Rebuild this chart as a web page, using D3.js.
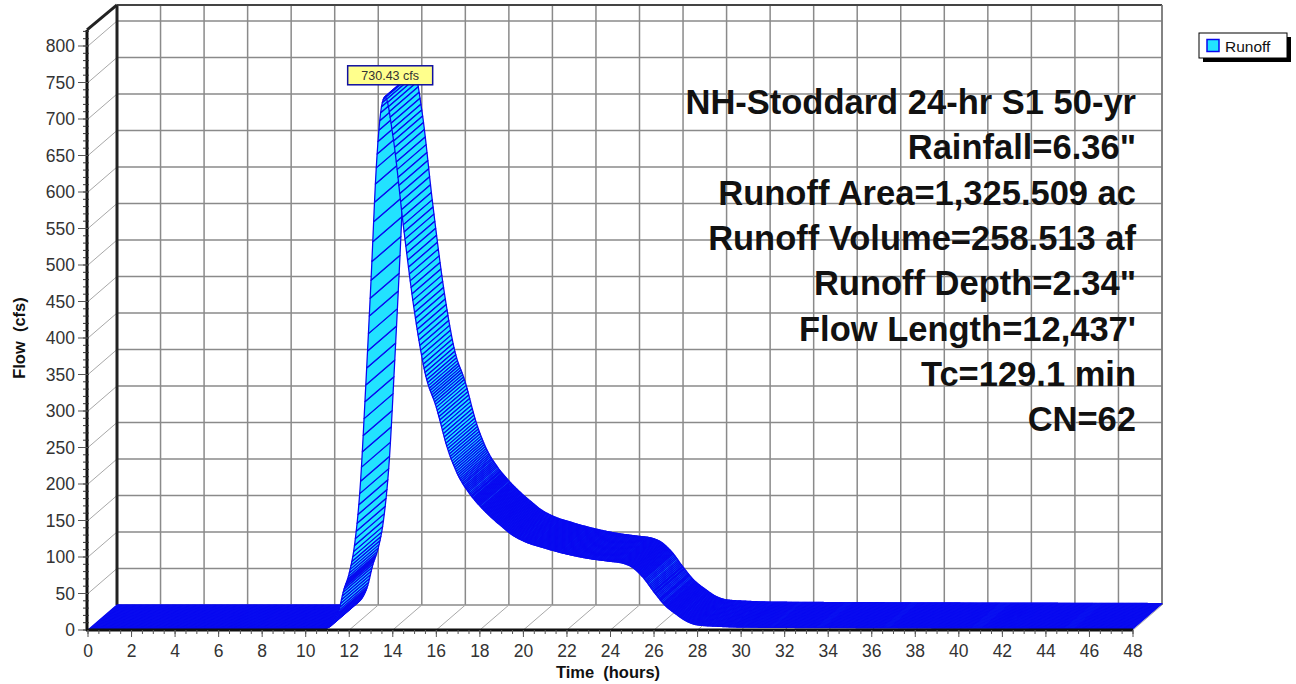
<!DOCTYPE html>
<html><head><meta charset="utf-8">
<script src="https://cdn.jsdelivr.net/npm/d3@7"></script>
<style>body{margin:0;background:#fff}svg{display:block}</style>
</head><body>
<svg id="chart" width="1296" height="684"></svg>
<script>
// ---- data ----
const timeHours = [0, 10.5, 11, 11.5, 11.75, 12, 12.25, 12.5, 12.75, 13, 13.25, 13.5, 13.65, 14, 14.5, 15, 15.5, 16, 16.5, 17, 17.5, 18, 18.5, 19, 19.5, 20, 21, 22, 23, 24, 24.5, 25, 25.5, 26, 26.5, 27, 27.5, 28, 29, 30, 36, 42, 48];
const flowCfs   = [0, 0, 3, 25, 55, 78, 118, 195, 330, 479, 638, 720, 730.43, 678, 550, 435, 350, 305, 250, 212, 188, 170, 155, 142, 130, 122, 112, 104, 98, 94, 92, 86, 72, 52, 34, 22, 12, 7, 5, 4, 3, 2.5, 2];
const xTickValues = d3.range(0, 49, 2);
const yTickValues = d3.range(0, 801, 50);
const peakLabel = "730.43 cfs";
const infoLines = ["NH-Stoddard 24-hr S1 50-yr", "Rainfall=6.36\"", "Runoff Area=1,325.509 ac", "Runoff Volume=258.513 af", "Runoff Depth=2.34\"", "Flow Length=12,437'", "Tc=129.1 min", "CN=62"];
const legendLabel = "Runoff";
const xTitle = "Time  (hours)";
const yTitle = "Flow  (cfs)";

// ---- layout ----
const svg = d3.select("#chart");
const xs = d3.scaleLinear().domain([0, 48]).range([88, 1133]);
const ys = d3.scaleLinear().domain([0, 800]).range([630, 46]);
const DX = 29, DY = -25, yMax = 822;
const font = "'Liberation Sans', Arial, sans-serif";
const gridCol = "#8a8a8a";

const g = svg.append("g");
const x0 = xs(0), x1 = xs(48), yb = ys(0), yt = ys(yMax);

// back wall grid
g.selectAll(".bv").data(xTickValues.slice(1)).join("line")
  .attr("x1", d => xs(d) + DX).attr("x2", d => xs(d) + DX)
  .attr("y1", yb + DY).attr("y2", yt + DY)
  .attr("stroke", gridCol).attr("stroke-width", 1.5);
g.selectAll(".bh").data(yTickValues).join("line")
  .attr("x1", x0 + DX).attr("x2", x1 + DX)
  .attr("y1", d => ys(d) + DY).attr("y2", d => ys(d) + DY)
  .attr("stroke", gridCol).attr("stroke-width", 1.5);
// left wall diagonals
g.selectAll(".lw").data(yTickValues.slice(1)).join("line")
  .attr("x1", x0).attr("y1", d => ys(d))
  .attr("x2", x0 + DX).attr("y2", d => ys(d) + DY)
  .attr("stroke", "#a8a8a8").attr("stroke-width", 1);
// floor diagonals
g.selectAll(".fl").data(xTickValues.slice(1)).join("line")
  .attr("x1", d => xs(d)).attr("y1", yb)
  .attr("x2", d => xs(d) + DX).attr("y2", yb + DY)
  .attr("stroke", "#a8a8a8").attr("stroke-width", 1);
// walls outline
g.append("line").attr("x1", x0 + DX).attr("x2", x0 + DX).attr("y1", yb + DY).attr("y2", yt + DY)
  .attr("stroke", "#222").attr("stroke-width", 3);
g.append("line").attr("x1", x0 + DX).attr("x2", x1 + DX).attr("y1", yt + DY).attr("y2", yt + DY)
  .attr("stroke", "#444").attr("stroke-width", 2);
g.append("line").attr("x1", x1 + DX).attr("x2", x1 + DX).attr("y1", yt + DY).attr("y2", yb + DY)
  .attr("stroke", "#777").attr("stroke-width", 1.5);

// ---- ribbon (hydrograph drawn through a monotone curve, tessellated for the 3-D band) ----
const pts = timeHours.map((t, i) => [xs(t), ys(flowCfs[i])]);
const tmp = svg.append("path").attr("d", d3.line().curve(d3.curveMonotoneX)(pts))
  .attr("fill", "none").attr("stroke", "none");
const node = tmp.node();
const L = node.getTotalLength();
const samples = [];
for (let s = 0; s <= L; s += 0.4) { const p = node.getPointAtLength(s); samples.push([p.x, p.y]); }
const endP = node.getPointAtLength(L); samples.push([endP.x, endP.y]);
tmp.remove();
const stepT = 0.04;
const curvePts = [];
let k = 0;
for (let t = 0; t <= 48 + 1e-9; t += stepT) {
  const tx = xs(Math.min(t, 48));
  while (k < samples.length - 1 && samples[k + 1][0] < tx) k++;
  const a = samples[k], b = samples[Math.min(k + 1, samples.length - 1)];
  const f = b[0] === a[0] ? 0 : Math.max(0, Math.min(1, (tx - a[0]) / (b[0] - a[0])));
  curvePts.push([tx, a[1] + (b[1] - a[1]) * f]);
}
const quads = d3.pairs(curvePts);
g.append("g").selectAll("path").data(quads).join("path")
  .attr("d", ([p, q]) => `M${p[0]},${p[1]}L${q[0]},${q[1]}L${q[0] + DX},${q[1] + DY}L${p[0] + DX},${p[1] + DY}Z`)
  .attr("fill", "#22e2ff").attr("stroke", "#0808f0").attr("stroke-width", 1.25).attr("stroke-linejoin", "round");

// ---- front axes ----
g.append("line").attr("x1", x0 - 1).attr("x2", x0 - 1).attr("y1", yb + 1).attr("y2", yt)
  .attr("stroke", "#111").attr("stroke-width", 3);
g.selectAll(".ymt").data(d3.range(0, 821, 10)).join("line")
  .attr("x1", x0 - 5).attr("x2", x0 + 1).attr("y1", d => ys(d)).attr("y2", d => ys(d))
  .attr("stroke", "#333").attr("stroke-width", 1);
g.selectAll(".yt").data(yTickValues).join("line")
  .attr("x1", x0 - 10).attr("x2", x0).attr("y1", d => ys(d)).attr("y2", d => ys(d))
  .attr("stroke", "#555").attr("stroke-width", 1);
g.selectAll(".yl").data(yTickValues).join("text")
  .attr("x", x0 - 13).attr("y", d => ys(d)).attr("dy", "0.35em")
  .attr("text-anchor", "end").attr("font-family", font).attr("font-size", 17.5).attr("fill", "#333")
  .text(d => d);
g.append("line").attr("x1", x0 - 2).attr("x2", x1).attr("y1", yb).attr("y2", yb)
  .attr("stroke", "#111").attr("stroke-width", 3);
g.selectAll(".xmt").data(d3.range(0, 48.01, 0.5)).join("line")
  .attr("x1", d => xs(d)).attr("x2", d => xs(d)).attr("y1", yb).attr("y2", yb + 4)
  .attr("stroke", "#555").attr("stroke-width", 1);
g.selectAll(".xt").data(xTickValues).join("line")
  .attr("x1", d => xs(d)).attr("x2", d => xs(d)).attr("y1", yb).attr("y2", yb + 7)
  .attr("stroke", "#555").attr("stroke-width", 1);
g.selectAll(".xl").data(xTickValues).join("text")
  .attr("x", d => xs(d)).attr("y", yb + 27)
  .attr("text-anchor", "middle").attr("font-family", font).attr("font-size", 17.5).attr("fill", "#333")
  .text(d => d);
g.append("line").attr("x1", x0 - 1).attr("y1", yt).attr("x2", x0 + DX).attr("y2", yt + DY)
  .attr("stroke", "#222").attr("stroke-width", 3);

// axis titles
svg.append("text").attr("x", 608).attr("y", 678).attr("text-anchor", "middle")
  .attr("font-family", font).attr("font-weight", "bold").attr("font-size", 16.5).attr("fill", "#111")
  .style("white-space", "pre").text(xTitle);
svg.append("text").attr("transform", "translate(25,338) rotate(-90)").attr("text-anchor", "middle")
  .attr("font-family", font).attr("font-weight", "bold").attr("font-size", 16.5).attr("fill", "#111")
  .style("white-space", "pre").text(yTitle);

// ---- info text ----
svg.selectAll(".info").data(infoLines).join("text")
  .attr("x", 1136).attr("y", (d, i) => 114 + i * 45.3).attr("text-anchor", "end")
  .attr("font-family", font).attr("font-weight", "bold").attr("font-size", 34.5).attr("fill", "#111")
  .text(d => d);

// ---- peak label ----
const pi = flowCfs.indexOf(d3.max(flowCfs));
const px = xs(timeHours[pi]) + 5, py = ys(flowCfs[pi]);
const lab = svg.append("g");
lab.append("rect").attr("x", px - 42.5).attr("y", py - 31).attr("width", 85).attr("height", 19)
  .attr("fill", "#ffff8c").attr("stroke", "#1010a0").attr("stroke-width", 1.5);
lab.append("text").attr("x", px).attr("y", py - 17).attr("text-anchor", "middle")
  .attr("font-family", font).attr("font-size", 12.5).attr("fill", "#333").text(peakLabel);

// ---- legend ----
const lg = svg.append("g");
lg.append("rect").attr("x", 1203).attr("y", 37).attr("width", 88).attr("height", 25).attr("fill", "#000");
lg.append("rect").attr("x", 1199).attr("y", 33).attr("width", 88).attr("height", 25)
  .attr("fill", "#fff").attr("stroke", "#000").attr("stroke-width", 1);
lg.append("rect").attr("x", 1207).attr("y", 39.5).attr("width", 12).attr("height", 12)
  .attr("fill", "#22e2ff").attr("stroke", "#0808f0").attr("stroke-width", 1.5);
lg.append("text").attr("x", 1225).attr("y", 51.5).attr("font-family", font).attr("font-size", 15.5)
  .attr("fill", "#111").text(legendLabel);
</script>
</body></html>
